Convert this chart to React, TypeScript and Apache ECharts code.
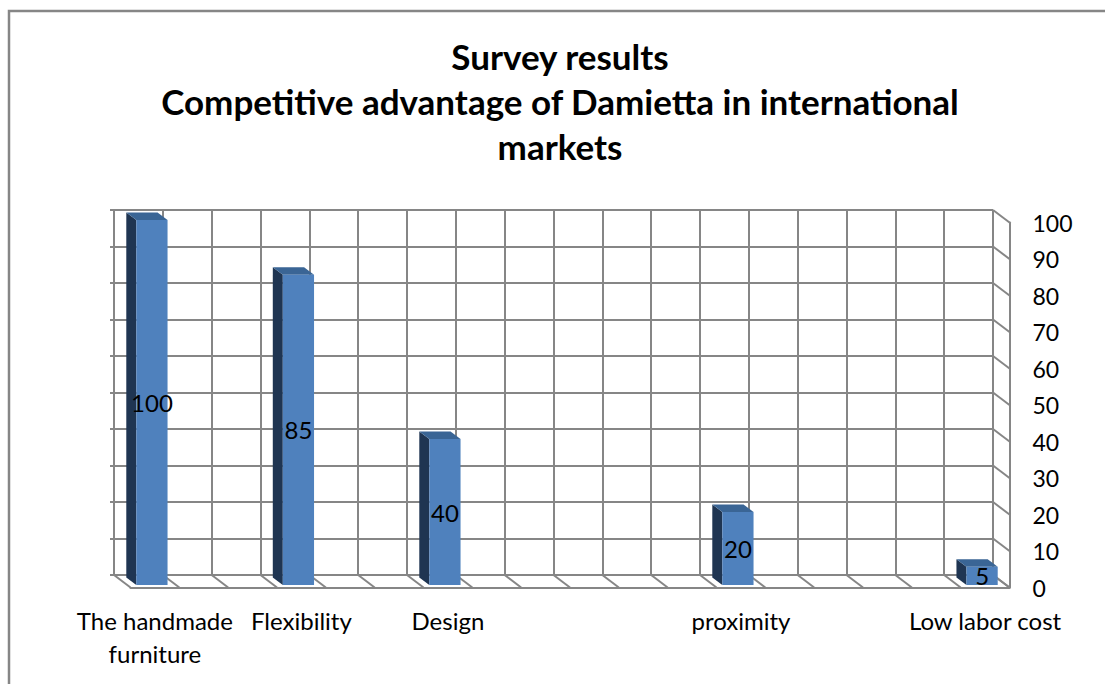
import React, { useEffect, useRef } from 'react';
import * as echarts from 'echarts';

const categories: string[] = [
  'The handmade\nfurniture', '', '', 'Flexibility', '', '', 'Design', '', '', '', '', '',
  'proximity', '', '', '', '', 'Low labor cost',
];
const values: (number | null)[] = [
  100, null, null, 85, null, null, 40, null, null, null, null, null,
  20, null, null, null, null, 5,
];
const yTicks: number[] = [0, 10, 20, 30, 40, 50, 60, 70, 80, 90, 100];
const titleLines: string[] = [
  'Survey results',
  'Competitive advantage of Damietta in international',
  'markets',
];

const FONT = 'Lato, "Open Sans", sans-serif';
const GRID_COLOR = '#868686';
const DX = 16.5;
const DY = 12.5;

export default function App() {
  const ref = useRef<HTMLDivElement>(null);

  useEffect(() => {
    if (!ref.current) return;
    const chart = echarts.init(ref.current, undefined, { renderer: 'svg' });
    const last = categories.length - 1;
    const barData = values
      .map((v, i) => (v == null ? null : [i, v]))
      .filter((d) => d !== null) as number[][];

    const option: any = {
      animation: false,
      backgroundColor: '#ffffff',
      graphic: [
        {
          type: 'rect',
          shape: { x: 9, y: 11, width: 1300, height: 900 },
          style: { fill: 'none', stroke: GRID_COLOR, lineWidth: 2.5 },
          z: 0,
        },
        {
          type: 'text',
          x: 560,
          y: 101,
          style: {
            text: titleLines.join('\n'),
            align: 'center',
            verticalAlign: 'middle',
            fontSize: 35,
            fontWeight: 'bold',
            lineHeight: 45,
            fontFamily: FONT,
            fill: '#000',
          },
        },
      ],
      grid: [
        { left: 114, top: 210, width: 879, height: 365 },
        { left: 130.5, top: 222.5, width: 879, height: 365 },
      ],
      xAxis: [
        {
          type: 'category',
          gridIndex: 0,
          data: categories,
          boundaryGap: true,
          axisLine: { show: true, lineStyle: { color: GRID_COLOR, width: 2 } },
          axisTick: { show: false },
          axisLabel: { show: false },
          splitLine: { show: true, interval: 0, lineStyle: { color: GRID_COLOR, width: 2 } },
        },
        {
          type: 'category',
          gridIndex: 1,
          data: categories,
          boundaryGap: true,
          axisLine: { show: true, lineStyle: { color: GRID_COLOR, width: 2 } },
          axisTick: { show: false },
          axisLabel: {
            show: true,
            interval: 0,
            margin: 16,
            fontSize: 24,
            lineHeight: 33,
            fontFamily: FONT,
            color: '#000',
            align: 'center',
          },
          splitLine: { show: false },
        },
      ],
      yAxis: [
        {
          type: 'value',
          gridIndex: 0,
          min: 0,
          max: 100,
          interval: 10,
          axisLine: { show: true, lineStyle: { color: GRID_COLOR, width: 2 } },
          axisTick: { show: true, length: 4, lineStyle: { color: GRID_COLOR, width: 2 } },
          axisLabel: { show: false },
          splitLine: { show: true, lineStyle: { color: GRID_COLOR, width: 2 } },
        },
        {
          type: 'value',
          gridIndex: 1,
          position: 'right',
          min: 0,
          max: 100,
          interval: 10,
          axisLine: { show: true, lineStyle: { color: GRID_COLOR, width: 2 } },
          axisTick: { show: false },
          axisLabel: {
            show: true,
            margin: 23,
            fontSize: 23,
            fontFamily: FONT,
            color: '#000',
          },
          splitLine: { show: false },
        },
      ],
      series: [
        {
          type: 'custom',
          name: 'floor',
          xAxisIndex: 1,
          yAxisIndex: 1,
          silent: true,
          data: categories.map((_, i) => [i, 0]),
          renderItem: (params: any, api: any) => {
            const i = api.value(0);
            const c = api.coord([i, 0]);
            const cw = api.size([1, 0])[0];
            const xs = [c[0] - cw / 2];
            if (i === last) xs.push(c[0] + cw / 2);
            return {
              type: 'group',
              children: xs.map((x) => ({
                type: 'line',
                shape: { x1: x, y1: c[1], x2: x - DX, y2: c[1] - DY },
                style: { stroke: GRID_COLOR, lineWidth: 2 },
              })),
            };
          },
          z: 1,
        },
        {
          type: 'custom',
          name: 'sidewall',
          xAxisIndex: 1,
          yAxisIndex: 1,
          silent: true,
          data: yTicks.map((v) => [last, v]),
          renderItem: (params: any, api: any) => {
            const c = api.coord([api.value(0), api.value(1)]);
            const cw = api.size([1, 0])[0];
            const x = c[0] + cw / 2;
            return {
              type: 'line',
              shape: { x1: x, y1: c[1], x2: x - DX, y2: c[1] - DY },
              style: { stroke: GRID_COLOR, lineWidth: 2 },
            };
          },
          z: 1,
        },
        {
          type: 'custom',
          name: 'Survey results',
          xAxisIndex: 1,
          yAxisIndex: 1,
          data: barData,
          encode: { x: 0, y: 1 },
          renderItem: (params: any, api: any) => {
            const idx = api.value(0);
            const v = api.value(1);
            const top = api.coord([idx, v]);
            const base = api.coord([idx, 0]);
            const cw = api.size([1, 0])[0];
            const w = cw * 0.64;
            const sx = -3;
            const sy = -2.5;
            const x0 = top[0] - w / 2 + sx;
            const x1 = x0 + w;
            const yt = top[1] + sy;
            const yb = base[1] + sy;
            const dx = 10;
            const dy = 7.5;
            return {
              type: 'group',
              children: [
                {
                  type: 'polygon',
                  shape: { points: [[x0, yt], [x0 - dx, yt - dy], [x0 - dx, yb - dy], [x0, yb]] },
                  style: { fill: '#1F3552' },
                },
                {
                  type: 'polygon',
                  shape: { points: [[x0, yt], [x1, yt], [x1 - dx, yt - dy], [x0 - dx, yt - dy]] },
                  style: { fill: '#3A6595' },
                },
                {
                  type: 'rect',
                  shape: { x: x0, y: yt, width: w, height: yb - yt },
                  style: { fill: '#4F81BD' },
                },
                {
                  type: 'text',
                  x: (x0 + x1) / 2,
                  y: (yt + yb) / 2,
                  style: {
                    text: String(v),
                    align: 'center',
                    verticalAlign: 'middle',
                    fontSize: 24,
                    fontFamily: FONT,
                    fill: '#000',
                  },
                },
              ],
            };
          },
          z: 3,
        },
      ],
    };

    chart.setOption(option);
    return () => chart.dispose();
  }, []);

  return (
    <div
      ref={ref}
      style={{ position: 'fixed', left: 0, top: 0, width: 1105, height: 684, background: '#fff' }}
    />
  );
}
